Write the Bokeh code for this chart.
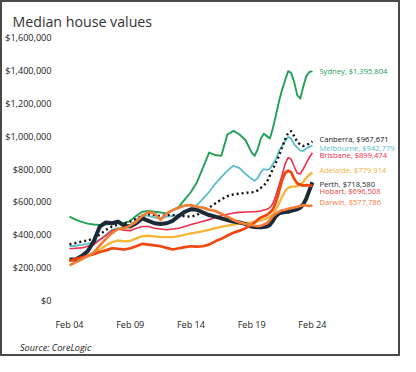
import pandas as pd
from bokeh.plotting import figure
from bokeh.models import (FixedTicker, DatetimeTickFormatter, NumeralTickFormatter,
                          Title, ColumnDataSource, Range1d)
from bokeh.embed import file_html
from bokeh.resources import INLINE
from bokeh.core.properties import value

# ---- data (values in $ thousands) ----
dates = ["2004-02", "2004-08", "2005-02", "2005-08", "2006-02", "2006-08", "2007-02", "2007-08",
         "2008-02", "2008-08", "2009-02", "2009-08", "2010-02", "2010-08", "2011-02", "2011-08",
         "2012-02", "2012-08", "2013-02", "2013-08", "2014-02", "2014-08", "2015-02", "2015-08",
         "2016-02", "2016-08", "2017-02", "2017-08", "2018-02", "2018-08",
         "2019-02", "2019-05", "2019-08", "2019-11", "2020-02", "2020-05", "2020-08", "2020-11",
         "2021-02", "2021-05", "2021-08", "2021-11", "2022-02", "2022-05", "2022-08", "2022-11",
         "2023-02", "2023-05", "2023-08", "2023-11", "2024-02"]

sydney = [510, 492, 478, 468, 462, 460, 462, 468, 470, 470,
          485, 515, 540, 545, 540, 535, 530, 550, 570, 615,
          660, 720, 810, 900, 885, 880, 1010, 1032, 1010, 975,
          900, 880, 920, 985, 1014, 1000, 986, 1050, 1130, 1210, 1280, 1340, 1395, 1385,
          1330, 1250, 1228, 1300, 1365, 1390, 1396]
canberra = [342, 350, 358, 365, 378, 400, 430, 450, 462, 470,
            480, 498, 515, 525, 520, 512, 520, 520, 518, 512,
            510, 520, 545, 565, 590, 615, 635, 645, 650, 655,
            658, 660, 670, 685, 700, 720, 760, 800, 840, 880, 930, 980, 1020, 1030,
            1000, 965, 948, 940, 945, 955, 968]
melbourne = [330, 333, 338, 345, 355, 370, 400, 430, 440, 440,
             455, 490, 520, 515, 505, 500, 510, 515, 520, 535,
             560, 580, 620, 660, 710, 750, 790, 820, 805, 770,
             740, 728, 745, 780, 800, 795, 800, 830, 860, 910, 940, 970, 995, 985,
             950, 930, 912, 910, 925, 935, 943]
brisbane = [315, 318, 320, 330, 340, 370, 395, 425, 435, 428,
            425, 440, 450, 450, 440, 435, 430, 435, 440, 450,
            462, 472, 482, 492, 505, 515, 525, 532, 536, 538,
            540, 540, 542, 545, 550, 555, 565, 590, 640, 700, 760, 830, 870, 860,
            815, 775, 770, 800, 835, 870, 899]
adelaide = [245, 255, 262, 275, 290, 310, 335, 355, 365, 360,
            362, 378, 392, 394, 390, 385, 385, 385, 392, 400,
            408, 415, 422, 430, 440, 448, 455, 462, 468, 472,
            475, 478, 482, 488, 493, 500, 510, 525, 555, 590, 630, 665, 685, 692,
            693, 695, 702, 720, 745, 765, 780]
perth = [250, 250, 270, 300, 360, 450, 475, 470, 480, 455,
         450, 470, 500, 485, 470, 465, 470, 485, 515, 540,
         555, 552, 535, 520, 510, 500, 490, 480, 475, 465,
         450, 447, 445, 445, 447, 450, 460, 485, 515, 530, 535, 538, 540, 545,
         550, 555, 565, 585, 620, 670, 719]
hobart = [240, 252, 262, 272, 282, 295, 305, 318, 315, 310,
          318, 330, 345, 340, 335, 330, 320, 310, 318, 325,
          330, 328, 330, 340, 360, 375, 395, 412, 425, 440,
          460, 475, 492, 505, 512, 520, 535, 555, 600, 660, 730, 775, 790, 780,
          740, 712, 705, 698, 702, 700, 697]
darwin = [215, 232, 250, 270, 292, 335, 375, 410, 435, 440,
          455, 480, 515, 538, 530, 490, 530, 550, 565, 578,
          580, 570, 565, 552, 545, 528, 510, 490, 475, 465,
          460, 455, 452, 455, 462, 470, 490, 515, 530, 540, 550, 552, 558, 562,
          566, 570, 575, 580, 578, 575, 578]

end_labels = ["Sydney, $1,395,804", "Canberra, $967,671", "Melbourne, $942,779",
              "Brisbane, $899,474", "Adelaide, $779,914", "Perth, $718,580",
              "Hobart, $696,508", "Darwin, $577,786"]
tick_years = ["2004-02", "2009-02", "2014-02", "2019-02", "2024-02"]
y_ticks = [0, 200000, 400000, 600000, 800000, 1000000, 1200000, 1400000, 1600000]

# ---- styling ----
FONT = "Open Sans"
x = pd.to_datetime(dates)

series = [
    ("Sydney", sydney, "#21a056", 1.9, "solid"),
    ("Melbourne", melbourne, "#5bbdcc", 1.8, "solid"),
    ("Brisbane", brisbane, "#ef2f4a", 1.6, "solid"),
    ("Adelaide", adelaide, "#f7b538", 2.3, "solid"),
    ("Canberra", canberra, "#111111", 2.4, "2 3"),
    ("Perth", perth, "#1c2a38", 4.0, "solid"),
    ("Hobart", hobart, "#f2460d", 2.7, "solid"),
    ("Darwin", darwin, "#f37c36", 2.7, "solid"),
]

x0 = pd.Timestamp("2004-02-01") - pd.Timedelta(days=180)
x1 = x0 + pd.Timedelta(days=int(27.91 * 365.25))

p = figure(width=400, height=356, x_axis_type="datetime",
           output_backend="svg", toolbar_location=None,
           x_range=Range1d(x0, x1), y_range=Range1d(0, 1600000),
           min_border_left=56, min_border_right=0, min_border_top=34, min_border_bottom=53,
           background_fill_color="white", border_fill_color="white",
           styles={"border": "2px solid #4a4a4a", "box-sizing": "border-box"})
p.outline_line_color = None
p.grid.visible = False

for name, vals, col, w, dash in series:
    p.line(x=x, y=[v * 1000 for v in vals], line_color=col, line_width=w,
           line_dash=dash, line_join="round")

# end labels
last_vals = [sydney[-1], canberra[-1], melbourne[-1], brisbane[-1],
             adelaide[-1], perth[-1], hobart[-1], darwin[-1]]
label_colors = ["#21a056", "#111111", "#5bbdcc", "#ef2f4a", "#f2b23a", "#1c2a38", "#ec4343", "#f37c46"]
label_dy = [0, -1.9, 2.1, 2.2, -2.4, 1.8, 5.5, -3.2]
lsrc = ColumnDataSource(dict(x=[x[-1]] * len(end_labels), y=[v * 1000 for v in last_vals],
                             text=end_labels, color=label_colors, dy=label_dy))
p.text(x="x", y="y", text="text", source=lsrc, text_color="color", x_offset=7, y_offset="dy",
       text_font=value(FONT), text_font_size="7.6px", text_baseline="middle", text_align="left")

# axes
p.yaxis.ticker = FixedTicker(ticks=y_ticks)
p.yaxis.formatter = NumeralTickFormatter(format="$0,0")
p.xaxis.ticker = FixedTicker(ticks=[pd.Timestamp(t).value // 10**6 for t in tick_years])
p.xaxis.formatter = DatetimeTickFormatter(days="%b %y", months="%b %y", years="%b %y")
for ax in (p.xaxis, p.yaxis):
    ax.axis_line_color = None
    ax.major_tick_line_color = None
    ax.minor_tick_line_color = None
    ax.major_label_text_font = FONT
    ax.major_label_text_font_size = "9.1px"
    ax.major_label_text_color = "#222222"
p.yaxis.major_label_standoff = 6
p.xaxis.major_label_standoff = 11

p.title.text = "Median house values"
p.title.text_font = FONT
p.title.text_font_size = "14.2px"
p.title.text_font_style = "normal"
p.title.text_color = "#333333"
p.title.align = "left"
p.title.offset = -51
p.title.standoff = 14

src_title = Title(text="Source: CoreLogic", text_font=FONT, text_font_size="9.1px",
                  text_font_style="italic", text_color="#222222", align="left", offset=-43.5,
                  standoff=10)
p.add_layout(src_title, "below")

open("out.html", "w").write(file_html(p, INLINE))
